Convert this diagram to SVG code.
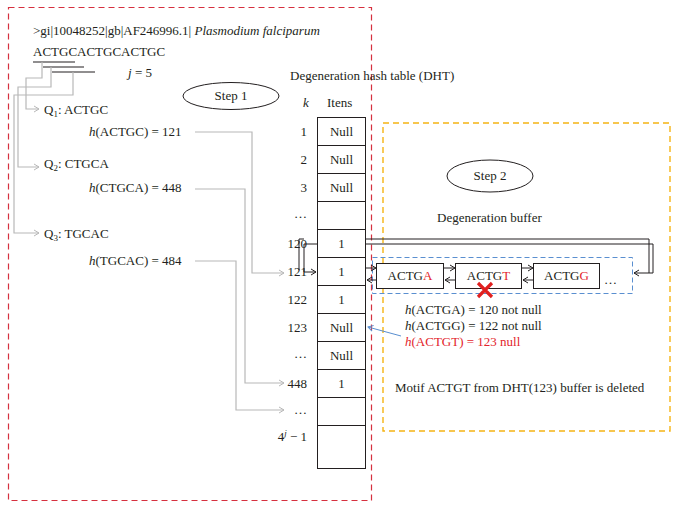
<svg xmlns="http://www.w3.org/2000/svg" width="678" height="510" viewBox="0 0 678 510">
<style>
text{font-family:"Liberation Serif","Times New Roman",serif;font-size:13px;fill:#231f20}
.it{font-style:italic}
.red{fill:#e3242b}
.c{text-anchor:middle}
.e{text-anchor:end}
.cell{fill:#fff;stroke:#231f20;stroke-width:1}
.gl{fill:none;stroke:#b8b8b8;stroke-width:1.2}
.bl{fill:none;stroke:#231f20;stroke-width:1}
.ul{stroke:#231f20;stroke-width:1.2}
</style>
<defs>
<marker id="ag" markerWidth="8" markerHeight="8" refX="7" refY="4" orient="auto" markerUnits="userSpaceOnUse"><path d="M2,1 L7,4 L2,7" fill="none" stroke="#b8b8b8" stroke-width="1"/></marker>
<marker id="ab" markerWidth="8" markerHeight="8" refX="7" refY="4" orient="auto" markerUnits="userSpaceOnUse"><path d="M2,1 L7,4 L2,7" fill="none" stroke="#231f20" stroke-width="1"/></marker>
<marker id="au" markerWidth="8" markerHeight="8" refX="7" refY="4" orient="auto" markerUnits="userSpaceOnUse"><path d="M2,1 L7,4 L2,7" fill="none" stroke="#5a8fd0" stroke-width="1"/></marker>
</defs>
<rect width="678" height="510" fill="#fff"/>

<g id="step1-frame"><rect x="8.5" y="7.5" width="363" height="493" fill="none" stroke="#d6303f" stroke-width="1.2" stroke-dasharray="6,4"/></g>
<g id="step2-frame"><rect x="383" y="123" width="287" height="308" fill="none" stroke="#f5b415" stroke-width="1.4" stroke-dasharray="6,4"/></g>

<g id="sequence">
<text x="33" y="35">&gt;gi|10048252|gb|AF246996.1| <tspan class="it">Plasmodium falciparum</tspan></text>
<text x="33" y="56">ACTGCACTGCACTGC</text>
<line class="ul" x1="33" y1="62" x2="75" y2="62"/>
<line class="ul" x1="43" y1="67" x2="84" y2="67" stroke="#555"/>
<line class="ul" x1="52" y1="72" x2="95" y2="72"/>
<text x="128" y="77"><tspan class="it">j</tspan> = 5</text>
</g>

<g id="step1"><ellipse cx="231" cy="96" rx="48" ry="13.5" fill="none" stroke="#231f20" stroke-width="1"/><text class="c" x="231" y="100">Step 1</text></g>

<g id="queries">
<text x="44" y="114">Q<tspan font-size="9" dy="3">1</tspan><tspan dy="-3">: ACTGC</tspan></text>
<text x="89" y="136"><tspan class="it">h</tspan>(ACTGC) = 121</text>
<text x="44" y="168">Q<tspan font-size="9" dy="3">2</tspan><tspan dy="-3">: CTGCA</tspan></text>
<text x="89" y="192"><tspan class="it">h</tspan>(CTGCA) = 448</text>
<text x="44" y="238">Q<tspan font-size="9" dy="3">3</tspan><tspan dy="-3">: TGCAC</tspan></text>
<text x="89" y="265"><tspan class="it">h</tspan>(TGCAC) = 484</text>
</g>

<g id="dht">
<text x="290" y="80">Degeneration hash table (DHT)</text>
<text class="it" x="303" y="107">k</text>
<text x="327" y="107">Itens</text>
<rect class="cell" x="317.5" y="117.5" width="48" height="28"/>
<rect class="cell" x="317.5" y="145.5" width="48" height="28"/>
<rect class="cell" x="317.5" y="173.5" width="48" height="28"/>
<rect class="cell" x="317.5" y="201.5" width="48" height="28"/>
<rect class="cell" x="317.5" y="229.5" width="48" height="28"/>
<rect class="cell" x="317.5" y="257.5" width="48" height="28"/>
<rect class="cell" x="317.5" y="285.5" width="48" height="28"/>
<rect class="cell" x="317.5" y="313.5" width="48" height="28"/>
<rect class="cell" x="317.5" y="341.5" width="48" height="28"/>
<rect class="cell" x="317.5" y="369.5" width="48" height="28"/>
<rect class="cell" x="317.5" y="397.5" width="48" height="28"/>
<rect class="cell" x="317.5" y="425.5" width="48" height="43"/>
<text class="e" x="307" y="136">1</text><text class="c" x="341.5" y="136">Null</text>
<text class="e" x="307" y="164">2</text><text class="c" x="341.5" y="164">Null</text>
<text class="e" x="307" y="192">3</text><text class="c" x="341.5" y="192">Null</text>
<text class="e" x="307" y="218">…</text>
<text class="e" x="307" y="248">120</text><text class="c" x="341.5" y="248">1</text>
<text class="e" x="307" y="276">121</text><text class="c" x="341.5" y="276">1</text>
<text class="e" x="307" y="304">122</text><text class="c" x="341.5" y="304">1</text>
<text class="e" x="307" y="332">123</text><text class="c" x="341.5" y="332">Null</text>
<text class="e" x="307" y="358">…</text><text class="c" x="341.5" y="360">Null</text>
<text class="e" x="307" y="388">448</text><text class="c" x="341.5" y="388">1</text>
<text class="e" x="307" y="414">…</text>
<text class="e" x="307" y="441">4<tspan class="it" font-size="9" dy="-5">j</tspan><tspan dy="5"> − 1</tspan></text>
</g>

<g id="step2"><ellipse cx="490" cy="176" rx="43" ry="16" fill="none" stroke="#231f20" stroke-width="1"/><text class="c" x="490" y="180">Step 2</text></g>

<g id="buffer">
<text x="437" y="222">Degeneration buffer</text>
<rect x="372.5" y="257.5" width="260" height="36" fill="none" stroke="#5a8fd0" stroke-width="1" stroke-dasharray="5,3"/>
<g id="box-actga"><rect class="cell" x="376.5" y="263.5" width="67" height="25"/><text class="c" x="410" y="280">ACTG<tspan class="red">A</tspan></text></g>
<g id="box-actgt"><rect class="cell" x="455.5" y="263.5" width="66" height="25"/><text class="c" x="488.5" y="280">ACTG<tspan class="red">T</tspan></text></g>
<g id="box-actgg"><rect class="cell" x="533.5" y="263.5" width="66" height="25"/><text class="c" x="566.5" y="280">ACTG<tspan class="red">G</tspan></text></g>
<text x="604" y="284">…</text>
<g id="delete-mark"><path d="M478,283 L492,297 M492,283 L478,297" stroke="#e02020" stroke-width="3.2" fill="none"/></g>
</g>

<g id="results">
<text x="405" y="314"><tspan class="it">h</tspan>(ACTGA) = 120 not null</text>
<text x="405" y="330"><tspan class="it">h</tspan>(ACTGG) = 122 not null</text>
<text class="red" x="405" y="346"><tspan class="it">h</tspan>(ACTGT) = 123 null</text>
<text x="395" y="392">Motif ACTGT from DHT(123) buffer is deleted</text>
</g>

<g id="connectors">
<path class="gl" d="M42,62 V78 H26 V109 H39" marker-end="url(#ag)"/>
<path class="gl" d="M51,67 V87 H18 V167 H39" marker-end="url(#ag)"/>
<path class="gl" d="M73,72 V95 H14 V233 H39" marker-end="url(#ag)"/>
<path class="gl" d="M195,132 H252 V273 H284" marker-end="url(#ag)"/>
<path class="gl" d="M195,189 H245 V383 H284" marker-end="url(#ag)"/>
<path class="gl" d="M195,261 H236 V410 H284" marker-end="url(#ag)"/>
<path class="bl" d="M304,239 H299 V270"/>
<path class="bl" d="M317,244 H304 V272 H316" marker-end="url(#ab)"/>
<path class="bl" d="M366,239 H649 V273"/>
<path class="bl" d="M366,244 H653 V273 H634" marker-end="url(#ab)"/>
<path class="bl" d="M366,268 H376" marker-end="url(#ab)"/>
<path class="bl" d="M376,280 H367" marker-end="url(#ab)"/>
<path class="bl" d="M444,268 H455" marker-end="url(#ab)"/>
<path class="bl" d="M455,280 H445" marker-end="url(#ab)"/>
<path class="bl" d="M522,268 H533" marker-end="url(#ab)"/>
<path class="bl" d="M533,280 H523" marker-end="url(#ab)"/>
<path d="M401,336 L368,327" fill="none" stroke="#5a8fd0" stroke-width="1" marker-end="url(#au)"/>
</g>
</svg>
